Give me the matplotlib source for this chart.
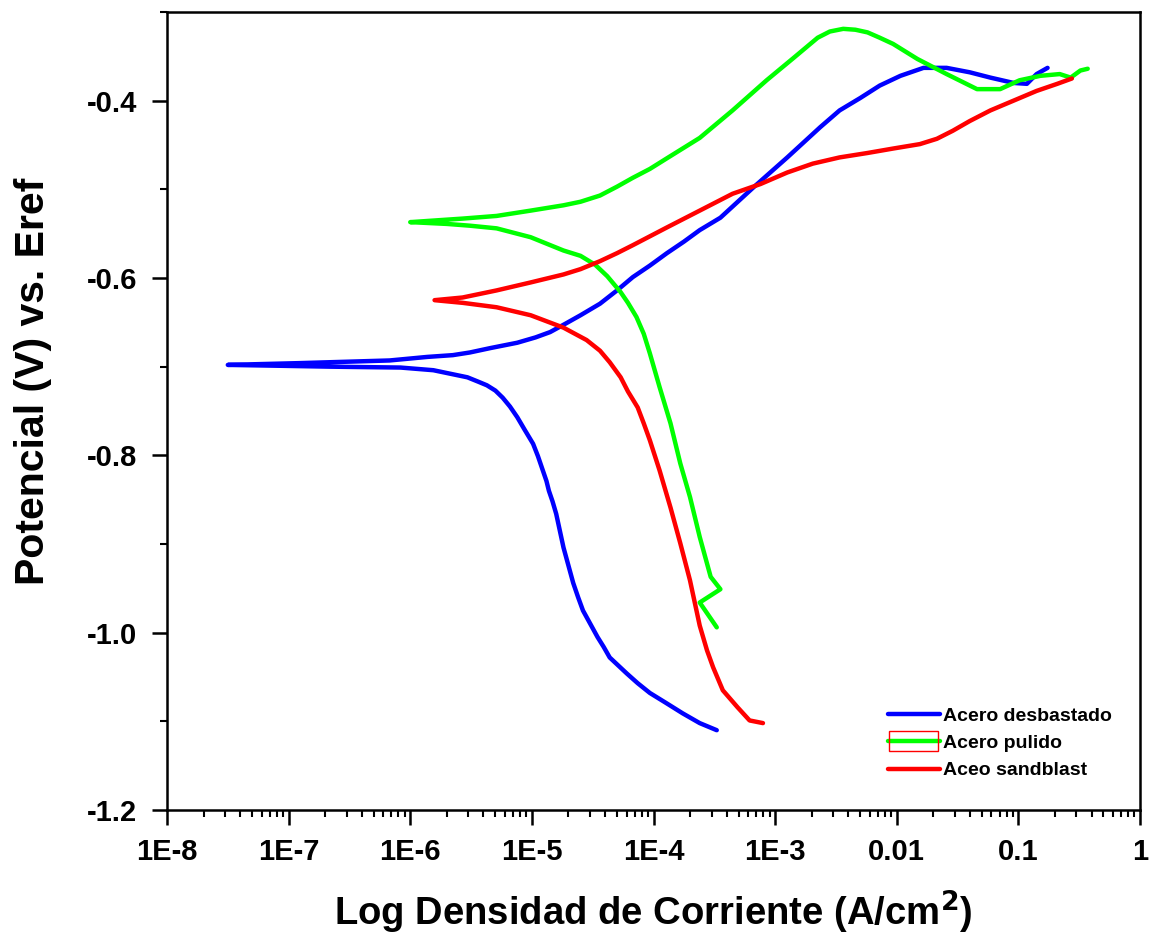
import numpy as np
import matplotlib
matplotlib.use("Agg")
import matplotlib.pyplot as plt
from matplotlib.patches import Rectangle
from matplotlib.ticker import LogLocator, FixedLocator, NullFormatter, FuncFormatter

plt.rcParams['font.family'] = ['Liberation Sans', 'DejaVu Sans']
plt.rcParams['font.weight'] = 'bold'

# Potentiodynamic polarization curves: log10(i) [A/cm2] and potential [V]
# Acero desbastado (cathodic branch up to Ecorr, then anodic branch)
desb_logi = [-3.48, -3.62, -3.76, -3.90, -4.03, -4.13, -4.22, -4.29, -4.36, -4.41,
             -4.46, -4.52, -4.58, -4.62, -4.66, -4.70, -4.74, -4.77, -4.80, -4.83,
             -4.86, -4.88, -4.91, -4.95, -4.99, -5.06, -5.12, -5.18, -5.24, -5.30,
             -5.37, -5.44, -5.53, -5.67, -5.81, -6.08, -6.66, -7.07, -7.50,
             -6.91, -6.17, -5.86, -5.65, -5.51, -5.34, -5.12, -4.97, -4.85, -4.73,
             -4.60, -4.44, -4.30, -4.17, -4.03, -3.89, -3.75, -3.62, -3.45, -3.18,
             -2.90, -2.63, -2.47, -2.30, -2.14, -1.97, -1.78, -1.59, -1.40, -1.23,
             -1.04, -0.93, -0.85, -0.76]
desb_E = [-1.110, -1.102, -1.091, -1.079, -1.068, -1.057, -1.046, -1.037, -1.028, -1.016,
          -1.005, -0.990, -0.975, -0.960, -0.944, -0.924, -0.904, -0.885, -0.866, -0.852,
          -0.840, -0.829, -0.817, -0.801, -0.787, -0.771, -0.757, -0.745, -0.735, -0.727,
          -0.721, -0.717, -0.712, -0.708, -0.704, -0.701, -0.700, -0.699, -0.698,
          -0.696, -0.693, -0.689, -0.687, -0.684, -0.679, -0.673, -0.667, -0.661, -0.652,
          -0.642, -0.629, -0.614, -0.599, -0.586, -0.572, -0.559, -0.546, -0.532, -0.498,
          -0.464, -0.430, -0.411, -0.397, -0.383, -0.372, -0.363, -0.363, -0.368, -0.374,
          -0.380, -0.381, -0.370, -0.363]

# Acero pulido
pul_logi = [-3.48, -3.62, -3.45, -3.53, -3.62, -3.70, -3.78, -3.86, -3.95, -4.03,
            -4.08, -4.14, -4.21, -4.27, -4.38, -4.48, -4.60, -4.74, -5.01, -5.29,
            -5.51, -5.70, -6.00,
            -5.57, -5.29, -5.01, -4.74, -4.60, -4.44, -4.30, -4.17, -4.03, -3.89,
            -3.62, -3.35, -3.07, -2.85, -2.65, -2.55, -2.44, -2.34, -2.24, -2.14,
            -2.03, -1.83, -1.59, -1.34, -1.15, -0.99, -0.82, -0.66, -0.57, -0.49,
            -0.43]
pul_E = [-0.994, -0.966, -0.951, -0.937, -0.892, -0.847, -0.809, -0.764, -0.723, -0.685,
         -0.663, -0.644, -0.628, -0.616, -0.598, -0.585, -0.575, -0.569, -0.554, -0.544,
         -0.541, -0.539, -0.537,
         -0.533, -0.530, -0.524, -0.518, -0.514, -0.507, -0.497, -0.487, -0.477, -0.465,
         -0.442, -0.411, -0.377, -0.352, -0.329, -0.322, -0.319, -0.320, -0.323, -0.329,
         -0.336, -0.353, -0.370, -0.387, -0.387, -0.377, -0.372, -0.370, -0.374, -0.366,
         -0.364]

# Aceo sandblast
sand_logi = [-3.10, -3.21, -3.31, -3.43, -3.51, -3.56, -3.62, -3.70, -3.78, -3.86,
             -3.95, -4.03, -4.08, -4.13, -4.21, -4.27, -4.36, -4.44, -4.55, -4.74,
             -5.01, -5.29, -5.57, -5.80,
             -5.57, -5.29, -5.01, -4.74, -4.60, -4.44, -4.30, -4.17, -3.89, -3.62,
             -3.35, -3.12, -2.90, -2.69, -2.47, -2.24, -2.03, -1.81, -1.67, -1.54,
             -1.40, -1.23, -1.04, -0.85, -0.68, -0.56]
sand_E = [-1.102, -1.099, -1.084, -1.065, -1.039, -1.020, -0.992, -0.941, -0.899, -0.859,
          -0.817, -0.783, -0.764, -0.746, -0.728, -0.712, -0.695, -0.682, -0.670, -0.656,
          -0.642, -0.633, -0.628, -0.625,
          -0.622, -0.614, -0.605, -0.596, -0.590, -0.581, -0.572, -0.563, -0.543, -0.524,
          -0.505, -0.494, -0.481, -0.471, -0.464, -0.459, -0.454, -0.449, -0.443, -0.434,
          -0.423, -0.411, -0.400, -0.389, -0.381, -0.375]

series_labels = ["Acero desbastado", "Acero pulido", "Aceo sandblast"]
series_colors = ["#0000FF", "#00FF00", "#FF0000"]

x_tick_values = [1e-8, 1e-7, 1e-6, 1e-5, 1e-4, 1e-3, 1e-2, 1e-1, 1]
x_tick_labels = ["1E-8", "1E-7", "1E-6", "1E-5", "1E-4", "1E-3", "0.01", "0.1", "1"]
y_tick_values = [-1.2, -1.0, -0.8, -0.6, -0.4]
y_tick_labels = ["-1.2", "-1.0", "-0.8", "-0.6", "-0.4"]

fig = plt.figure(figsize=(11.56, 9.40), dpi=100)
ax = fig.add_axes([167/1156, 1 - 810/940, (1140-167)/1156, (810-12)/940])

curves = [(desb_logi, desb_E), (pul_logi, pul_E), (sand_logi, sand_E)]
for (logi, E), lab, col in zip(curves, series_labels, series_colors):
    ax.plot(10.0 ** np.asarray(logi), E, color=col, lw=3.2, label=lab,
            solid_joinstyle='round', solid_capstyle='round')

ax.set_xscale('log')
ax.set_xlim(1e-8, 1)
ax.set_ylim(-1.2, -0.3)

ax.xaxis.set_major_locator(FixedLocator(x_tick_values))
ax.xaxis.set_major_formatter(FuncFormatter(
    lambda v, pos: dict(zip(x_tick_values, x_tick_labels)).get(v, "")))
ax.xaxis.set_minor_locator(LogLocator(base=10, subs=np.arange(2, 10), numticks=50))
ax.xaxis.set_minor_formatter(NullFormatter())

ax.yaxis.set_major_locator(FixedLocator(y_tick_values))
ax.set_yticklabels(y_tick_labels)
ax.yaxis.set_minor_locator(FixedLocator([-1.1, -0.9, -0.7, -0.5, -0.3]))

for sp in ax.spines.values():
    sp.set_linewidth(1.8)
ax.tick_params(which='major', direction='out', length=10.5, width=1.8,
               labelsize=21, top=False, right=False)
ax.tick_params(which='minor', direction='out', length=5, width=1.5,
               top=False, right=False)
ax.tick_params(axis='x', which='major', pad=10)
ax.tick_params(axis='y', which='major', pad=11)
for t in ax.get_xticklabels() + ax.get_yticklabels():
    t.set_fontweight('bold')

ax.set_xlabel("Log Densidad de Corriente (A/cm$^{\\mathbf{2}}$)", fontsize=27.5,
              fontweight='bold', labelpad=16)
ax.set_ylabel("Potencial (V) vs. Eref", fontsize=29.5, fontweight='bold')
ax.yaxis.set_label_coords(-0.118, 0.537)

leg = ax.legend(loc='upper left', bbox_to_anchor=(0.741, 0.129), frameon=False,
                prop={'size': 14, 'weight': 'bold'}, handlelength=2.7,
                handletextpad=0.15, labelspacing=0.5, borderpad=0, borderaxespad=0)

# Selection box drawn around the second legend handle
fig.canvas.draw()
hl = leg.get_lines()[1].get_window_extent(fig.canvas.get_renderer())
inv = fig.transFigure.inverted()
(x0, y0) = inv.transform((hl.x0 + 1, hl.y0 - 10))
(x1, y1) = inv.transform((hl.x1 - 2, hl.y1 + 10))
fig.patches.append(Rectangle((x0, y0), x1 - x0, y1 - y0, transform=fig.transFigure,
                             fill=False, edgecolor='#FF0000', lw=1.0))

fig.savefig("out.png", dpi=100)
